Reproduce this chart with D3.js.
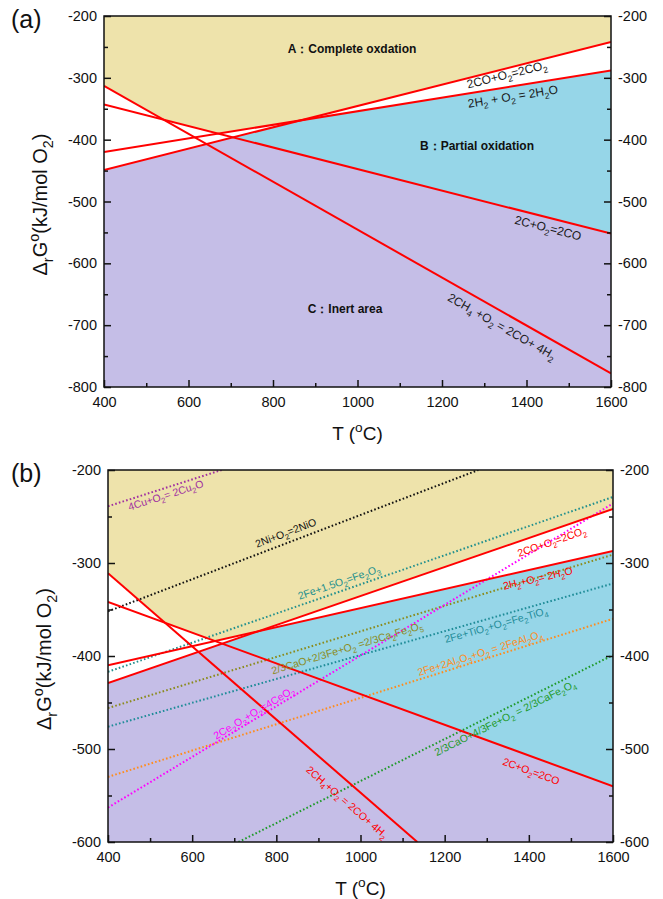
<!DOCTYPE html>
<html>
<head>
<meta charset="utf-8">
<script src="https://cdn.jsdelivr.net/npm/d3@7"></script>
<style>
  body { margin: 0; background: #fff; }
  text { font-family: "Liberation Sans", Arial, sans-serif; }
</style>
</head>
<body>
<div id="canvas"></div>
<script>
(function (d3) {
  'use strict';

  const width = 663;
  const height = 899;

  // ---- data ----
  const tempRange = [400, 1600];
  const xMajor = [400, 600, 800, 1000, 1200, 1400, 1600];
  const xMinor = [500, 700, 900, 1100, 1300, 1500];

  // [T (°C), ΔG (kJ/mol O2)] at both ends of each line
  const redLinesA = [
    { id: 'CH4', label: '2CH_4 +O_2 = 2CO+ 4H_2', pts: [[400, -313], [1600, -778]] },
    { id: 'C',   label: '2C+O_2=2CO',             pts: [[400, -343], [1600, -552]] },
    { id: 'H2',  label: '2H_2 + O_2 = 2H_2O',     pts: [[400, -420], [1600, -288]] },
    { id: 'CO',  label: '2CO+O_2=2CO_2',          pts: [[400, -449], [1600, -242]] }
  ];
  const redLinesB = [
    { id: 'CH4', label: '2CH_4+O_2 = 2CO+ 4H_2', pts: [[400, -311], [1135, -600]] },
    { id: 'C',   label: '2C+O_2=2CO',            pts: [[400, -342], [1600, -540]] },
    { id: 'H2',  label: '2H_2+O_2= 2H_2O',       pts: [[400, -410], [1600, -287]] },
    { id: 'CO',  label: '2CO+O_2=2CO_2',         pts: [[400, -429], [1600, -242]] }
  ];
  const oxideLines = [
    { id: 'Cu',      label: '4Cu+O_2= 2Cu_2O',                 pts: [[400, -239], [670, -200]] },
    { id: 'Ni',      label: '2Ni+O_2=2NiO',                    pts: [[400, -352], [1280, -200]] },
    { id: 'Fe2O3',   label: '2Fe+1.5O_2=Fe_2O_3',              pts: [[400, -417], [1600, -229]] },
    { id: 'Ca2Fe2O5',label: '2/3CaO+2/3Fe+O_2 =2/3Ca_2Fe_2O_5', pts: [[400, -456], [1600, -291]] },
    { id: 'Fe2TiO4', label: '2Fe+TiO_2+O_2=Fe_2TiO_4',         pts: [[400, -476], [1600, -322]] },
    { id: 'FeAl2O4', label: '2Fe+2Al_2O_3+O_2 = 2FeAl_2O_4',   pts: [[400, -530], [1600, -360]] },
    { id: 'CeO2',    label: '2Ce_2O_3+O_2=4CeO_2',             pts: [[400, -563], [1600, -236]] },
    { id: 'CaFe2O4', label: '2/3CaO+4/3Fe+O_2 = 2/3CaFe_2O_4', pts: [[710, -600], [1600, -399]] }
  ];
  const regionLabels = ['A：Complete oxdation', 'B：Partial oxidation', 'C：Inert area'];

  // ---- styles / layout ----
  const oxideColor = {
    Cu: '#a02fa0', Ni: '#111111', Fe2O3: '#23908e', Ca2Fe2O5: '#8b8b1c',
    Fe2TiO4: '#1f8c98', FeAl2O4: '#ff8c1c', CeO2: '#ff00ff', CaFe2O4: '#1f9a2a'
  };
  const fillYellow = '#eee3ab';
  const fillBlue = '#96d6e8';
  const fillPurple = '#c5bee7';

  // label anchor: temperature along the line + perpendicular offset (px)
  const labelPosA = { CH4: [1357, 13], C: [1457, 10], H2: [1364, 10], CO: [1350, 6] };
  const labelPosB = {
    CH4: [993, 16], C: [1417, 14], H2: [1416, 10], CO: [1446, 11],
    Cu: [532, 7], Ni: [831, -10], Fe2O3: [956, -9], Ca2Fe2O5: [960, 12],
    Fe2TiO4: [1317, 8], FeAl2O4: [1289, -7], CeO2: [754, -6], CaFe2O4: [1335, 8]
  };

  const panelA = { left: 104, right: 611, top: 16, bottom: 387, yDomain: [-800, -200],
                   yMajor: d3.range(-800, -199, 100), yMinor: d3.range(-750, -200, 100),
                   tag: '(a)', tagY: 28, font: 12 };
  const panelB = { left: 108, right: 613, top: 470, bottom: 842, yDomain: [-600, -200],
                   yMajor: d3.range(-600, -199, 100), yMinor: d3.range(-550, -200, 100),
                   tag: '(b)', tagY: 482, font: 10.5 };

  const svg = d3.select('#canvas')
    .append('svg')
    .attr('width', width)
    .attr('height', height);

  // text with _x subscripts and ^x superscripts
  const richText = (sel, str, size) => {
    const parts = str.split(/([_^].)/).filter((s) => s.length);
    let shift = 0;
    parts.forEach((p) => {
      let target = 0, txt = p, fs = size;
      if (p[0] === '_') { target = size * 0.3; txt = p.slice(1); fs = size * 0.72; }
      else if (p[0] === '^') { target = -size * 0.42; txt = p.slice(1); fs = size * 0.72; }
      sel.append('tspan').attr('dy', target - shift).attr('font-size', fs).text(txt);
      shift = target;
    });
  };

  const lineFn = (l) => {
    const [[t1, v1], [t2, v2]] = l.pts;
    const m = (v2 - v1) / (t2 - t1);
    return { m: m, b: v1 - m * t1, f: (t) => v1 + m * (t - t1) };
  };

  const drawPanel = (P, redLines, extraLines, labelPos, redLabelColor) => {
    const x = d3.scaleLinear().domain(tempRange).range([P.left, P.right]);
    const y = d3.scaleLinear().domain(P.yDomain).range([P.bottom, P.top]);
    const g = svg.append('g');
    const clipId = 'clip' + P.tag.replace(/\W/g, '');
    g.append('clipPath').attr('id', clipId)
      .append('rect')
      .attr('x', P.left).attr('y', P.top)
      .attr('width', P.right - P.left).attr('height', P.bottom - P.top);
    const plot = g.append('g').attr('clip-path', `url(#${clipId})`);

    // region boundaries: breakpoints at all intersections of the red lines
    const fn = {};
    redLines.forEach((l) => { fn[l.id] = lineFn(l); });
    let ts = tempRange.slice();
    redLines.forEach((a, i) => redLines.forEach((b, j) => {
      if (j <= i) return;
      const A = fn[a.id], B = fn[b.id];
      if (A.m === B.m) return;
      const t = (B.b - A.b) / (A.m - B.m);
      if (t > tempRange[0] && t < tempRange[1]) ts.push(t);
    }));
    ts = Array.from(new Set(ts)).sort((p, q) => p - q);

    const all = (t) => redLines.map((l) => fn[l.id].f(t));
    const minOx = (t) => Math.min(fn.CO.f(t), fn.H2.f(t));

    plot.append('path').datum(ts).attr('fill', fillYellow)
      .attr('d', d3.area().x((t) => x(t)).y0(y(P.yDomain[1])).y1((t) => y(d3.max(all(t)))));
    plot.append('path').datum(ts).attr('fill', fillBlue)
      .attr('d', d3.area().x((t) => x(t))
        .y0((t) => y(fn.C.f(t)))
        .y1((t) => y(Math.max(fn.C.f(t), minOx(t)))));
    plot.append('path').datum(ts).attr('fill', fillPurple)
      .attr('d', d3.area().x((t) => x(t)).y0(y(P.yDomain[0]))
        .y1((t) => y(Math.min(fn.C.f(t), minOx(t)))));

    const line = d3.line().x((d) => x(d[0])).y((d) => y(d[1]));

    plot.selectAll('path.ox')
      .data(extraLines)
      .enter()
      .append('path')
      .attr('class', 'ox')
      .attr('fill', 'none')
      .attr('stroke', (d) => oxideColor[d.id])
      .attr('stroke-width', 2)
      .attr('stroke-dasharray', '1.6,2.2')
      .attr('d', (d) => line(d.pts));

    plot.selectAll('path.red')
      .data(redLines)
      .enter()
      .append('path')
      .attr('class', 'red')
      .attr('fill', 'none')
      .attr('stroke', '#ff0000')
      .attr('stroke-width', 2)
      .attr('d', (d) => line(d.pts));

    // line labels
    const labelled = redLines.map((d) => ({ d: d, c: redLabelColor }))
      .concat(extraLines.map((d) => ({ d: d, c: oxideColor[d.id] })));
    labelled.forEach(({ d, c }) => {
      const pos = labelPos[d.id];
      if (!pos) return;
      const F = lineFn(d);
      const [[t1, v1], [t2, v2]] = d.pts;
      const ang = Math.atan2(y(v2) - y(v1), x(t2) - x(t1));
      const px = x(pos[0]) - pos[1] * Math.sin(ang);
      const py = y(F.f(pos[0])) + pos[1] * Math.cos(ang);
      const txt = g.append('text')
        .attr('transform', `translate(${px},${py}) rotate(${ang * 180 / Math.PI})`)
        .attr('text-anchor', 'middle')
        .attr('y', P.font * 0.35)
        .attr('fill', c)
        .style('font-size', P.font + 'px');
      richText(txt, d.label, P.font);
    });

    // frame
    g.append('rect')
      .attr('x', P.left).attr('y', P.top)
      .attr('width', P.right - P.left).attr('height', P.bottom - P.top)
      .attr('fill', 'none').attr('stroke', '#111').attr('stroke-width', 1.5);

    // axes
    const clean = (s) => { s.select('.domain').remove(); s.selectAll('line').attr('stroke', '#111').attr('stroke-width', 1.5); };
    const fs = '14.5px';
    const fmt = (d) => String(d);
    g.append('g').attr('transform', `translate(0,${P.bottom})`)
      .call(d3.axisBottom(x).tickValues(xMajor).tickSize(-7).tickPadding(10).tickFormat(fmt))
      .call(clean).selectAll('text').style('font-size', fs).attr('fill', '#111');
    g.append('g').attr('transform', `translate(0,${P.bottom})`)
      .call(d3.axisBottom(x).tickValues(xMinor).tickSize(-4).tickFormat(''))
      .call(clean);
    g.append('g').attr('transform', `translate(${P.left},0)`)
      .call(d3.axisLeft(y).tickValues(P.yMajor).tickSize(-7).tickPadding(7).tickFormat(fmt))
      .call(clean).selectAll('text').style('font-size', fs).attr('fill', '#111');
    g.append('g').attr('transform', `translate(${P.left},0)`)
      .call(d3.axisLeft(y).tickValues(P.yMinor).tickSize(-4).tickFormat(''))
      .call(clean);
    g.append('g').attr('transform', `translate(${P.right},0)`)
      .call(d3.axisRight(y).tickValues(P.yMajor).tickSize(-7).tickPadding(7).tickFormat(fmt))
      .call(clean).selectAll('text').style('font-size', fs).attr('fill', '#111');
    g.append('g').attr('transform', `translate(${P.right},0)`)
      .call(d3.axisRight(y).tickValues(P.yMinor).tickSize(-4).tickFormat(''))
      .call(clean);

    // axis titles
    const xt = g.append('text')
      .attr('x', (P.left + P.right) / 2).attr('y', P.bottom + 53)
      .attr('text-anchor', 'middle').attr('fill', '#111').style('font-size', '19px');
    richText(xt, 'T (^oC)', 19);

    const yt = g.append('text')
      .attr('transform', `translate(${P.left - 57},${(P.top + P.bottom) / 2 + 3}) rotate(-90)`)
      .attr('text-anchor', 'middle').attr('fill', '#111').style('font-size', '20px');
    richText(yt, 'Δ_rG^o(kJ/mol O_2)', 20);

    g.append('text').attr('x', 11).attr('y', P.tagY)
      .attr('fill', '#111').style('font-size', '25px').text(P.tag);

    return { x: x, y: y, g: g };
  };

  const pa = drawPanel(panelA, redLinesA, [], labelPosA, '#1a1a1a');
  drawPanel(panelB, redLinesB, oxideLines, labelPosB, '#ff0000');

  // region names in panel (a)
  const regionXY = [[352, 49], [477, 146], [345, 309]];
  pa.g.selectAll('text.region')
    .data(regionLabels)
    .enter()
    .append('text')
    .attr('class', 'region')
    .attr('x', (d, i) => regionXY[i][0])
    .attr('y', (d, i) => regionXY[i][1] + 4)
    .attr('text-anchor', 'middle')
    .attr('fill', '#111')
    .style('font-size', '12px')
    .style('font-weight', 'bold')
    .text((d) => d);

}(d3));
</script>
</body>
</html>
